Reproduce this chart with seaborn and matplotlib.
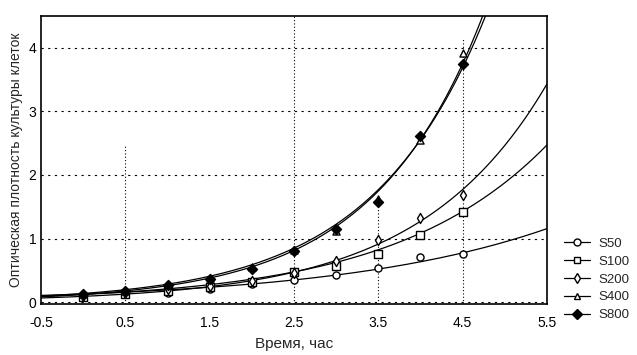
import matplotlib
matplotlib.use("Agg")
import matplotlib.pyplot as plt
from matplotlib.lines import Line2D
import numpy as np
import pandas as pd
import seaborn as sns

# Measured points (time, optical density) for each strain
hours = [0.0, 0.5, 1.0, 1.5, 2.0, 2.5, 3.0, 3.5, 4.0, 4.5]
s50 = [0.10, 0.12, 0.15, 0.20, 0.28, 0.35, 0.43, 0.53, 0.71, 0.76]
s100 = [0.08, 0.13, 0.18, 0.24, 0.32, 0.48, 0.57, 0.75, 1.05, 1.42]
s200 = [0.10, 0.15, 0.20, 0.25, 0.33, 0.45, 0.65, 0.98, 1.33, 1.68]
s400 = [0.12, 0.18, 0.27, 0.38, 0.55, 0.82, 1.12, 1.62, 2.55, 3.92]
s800 = [0.12, 0.17, 0.27, 0.37, 0.52, 0.80, 1.15, 1.58, 2.62, 3.75]

series_names = ["S50", "S100", "S200", "S400", "S800"]

# exponential fit y = a * exp(b * t), parameters
fit_a = [0.128, 0.120, 0.090, 0.120, 0.135]
fit_b = [0.400, 0.550, 0.662, 0.765, 0.735]

x_ticks = [-0.5, 0.5, 1.5, 2.5, 3.5, 4.5, 5.5]
y_ticks = [0, 1, 2, 3, 4]

marker_styles = {"S50": "o", "S100": "s", "S200": "d", "S400": "^", "S800": "D"}
filled = {"S50": False, "S100": False, "S200": False, "S400": False, "S800": True}

df = pd.DataFrame({
    "hours": hours * 5,
    "od": s50 + s100 + s200 + s400 + s800,
    "series": np.repeat(series_names, len(hours)),
})

sns.set_style("white")
plt.rcParams["font.family"] = ["Liberation Sans", "DejaVu Sans"]

fig = plt.figure(figsize=(6.37, 3.55), dpi=100)
ax = fig.add_axes([0.0644, 0.1437, 0.7943, 0.8113])

x_fit = np.linspace(-0.5, 5.5, 300)
for a, b in zip(fit_a, fit_b):
    sns.lineplot(x=x_fit, y=a * np.exp(b * x_fit), ax=ax, color="black",
                 lw=0.9, legend=False)

for name in series_names:
    sub = df[df["series"] == name]
    sns.scatterplot(data=sub, x="hours", y="od", ax=ax, marker=marker_styles[name],
                    s=26, facecolor="black" if filled[name] else "white",
                    edgecolor="black", linewidth=1.0, legend=False, zorder=5)

# dotted grid
for yv in y_ticks:
    ax.axhline(yv, color="black", ls=(0, (2, 4)), lw=0.8, zorder=1)
for xv, top in [(0.5, 2.45), (2.5, 4.5), (3.5, 1.7), (4.5, 4.13)]:
    ax.plot([xv, xv], [-0.03, top], color="black", ls=(0, (1, 2)), lw=0.8, zorder=1)

ax.set_xlim(-0.5, 5.5)
ax.set_ylim(-0.03, 4.5)
ax.set_xticks(x_ticks)
ax.set_xticklabels([f"{v:g}" for v in x_ticks])
ax.set_yticks(y_ticks)
ax.tick_params(axis="both", labelsize=10, length=3, direction="in", colors="black")
ax.tick_params(axis="x", pad=9)
for sp in ax.spines.values():
    sp.set_color("black")
    sp.set_linewidth(1.2)

ax.set_xlabel("Время, час", fontsize=11, labelpad=5)
ax.set_ylabel("Оптическая плотность культуры клеток", fontsize=10, labelpad=4)

handles = [
    Line2D([0], [0], color="black", lw=0.9, marker=marker_styles[n], markersize=5,
           markerfacecolor="black" if filled[n] else "white", markeredgecolor="black")
    for n in series_names
]
fig.legend(handles, series_names, loc="upper left", bbox_to_anchor=(0.885, 0.33),
           frameon=False, fontsize=9.5, handlelength=2.0, labelspacing=0.42,
           handletextpad=0.6, borderaxespad=0, borderpad=0)

fig.savefig("out.png", dpi=100)
